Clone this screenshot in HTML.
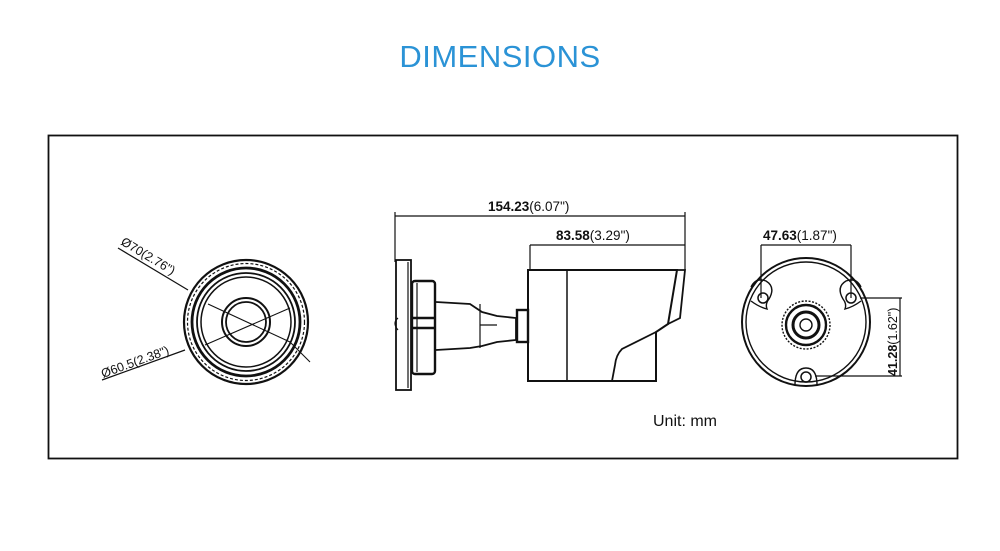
<!DOCTYPE html>
<html><head><meta charset="utf-8"><style>
html,body{margin:0;padding:0;background:#fff;}
body{width:1000px;height:551px;overflow:hidden;position:relative;font-family:"Liberation Sans",sans-serif;}
.t{position:absolute;left:0;width:1000px;top:39px;text-align:center;font-size:31px;color:#2b93d6;letter-spacing:0.5px;}
svg{position:absolute;left:0;top:0;}
</style></head><body>
<div class="t">DIMENSIONS</div>
<svg width="1000" height="551" viewBox="0 0 1000 551" fill="none" stroke="#111" stroke-width="1.8" font-family="Liberation Sans, sans-serif">
<rect x="48.5" y="135.5" width="909" height="323" stroke-width="1.8"/>
<!-- left front view -->
<g>
<circle cx="246" cy="322" r="62" stroke-width="2.2"/>
<circle cx="246" cy="322" r="58.5" stroke-width="1.2" stroke-dasharray="3 2"/>
<circle cx="246" cy="322" r="54" stroke-width="2.8"/>
<circle cx="246" cy="322" r="49" stroke-width="1.8"/>
<circle cx="246" cy="322" r="45" stroke-width="1.5"/>
<circle cx="246" cy="322" r="24" stroke-width="2"/>
<circle cx="246" cy="322" r="20" stroke-width="1.8"/>
<line x1="208" y1="304" x2="290" y2="342" stroke-width="1.1"/>
<line x1="205" y1="345" x2="290" y2="308" stroke-width="1.1"/>
<line x1="118" y1="248" x2="188" y2="290" stroke-width="1.2"/>
<line x1="102" y1="380" x2="185" y2="350" stroke-width="1.2"/>
<line x1="290" y1="342" x2="310" y2="362" stroke-width="1.1"/>
<text x="0" y="0" transform="translate(120,244) rotate(31)" font-size="12.5" fill="#111" stroke="none">Ø70(2.76")</text>
<text x="0" y="0" transform="translate(103,378) rotate(-20)" font-size="12.5" fill="#111" stroke="none">Ø60.5(2.38")</text>
</g>
<!-- side view -->
<g>
<line x1="395" y1="216" x2="685" y2="216" stroke-width="1.2"/>
<line x1="395" y1="212" x2="395" y2="262" stroke-width="1.2"/>
<line x1="685" y1="212" x2="685" y2="270" stroke-width="1.2"/>
<line x1="530" y1="245" x2="685" y2="245" stroke-width="1.2"/>
<line x1="530" y1="245" x2="530" y2="270" stroke-width="1.2"/>
<text x="488" y="211" font-size="13.5" fill="#111" stroke="none"><tspan font-weight="bold">154.23</tspan>(6.07")</text>
<text x="556" y="240" font-size="13.5" fill="#111" stroke="none"><tspan font-weight="bold">83.58</tspan>(3.29")</text>
<rect x="396" y="260" width="15" height="130" stroke-width="1.8"/>
<line x1="408" y1="262" x2="408" y2="388" stroke-width="1.2"/>
<rect x="412" y="281" width="23" height="93" rx="3" stroke-width="2.4"/>
<line x1="417" y1="283" x2="417" y2="372" stroke-width="1.2"/>
<line x1="412" y1="318" x2="435" y2="318" stroke-width="2.4"/>
<line x1="412" y1="328" x2="435" y2="328" stroke-width="2.4"/>
<path d="M398 318 q-6 5 0 12" stroke-width="1.2"/>
<path d="M436 302 L470 304 L482 312 L497 316 L516 318 L516 340 L497 342 L482 346 L470 348 L436 350" stroke-width="1.8"/>
<line x1="480" y1="304" x2="480" y2="348" stroke-width="1.2"/>
<line x1="480" y1="325" x2="497" y2="325" stroke-width="1.2"/>
<rect x="517" y="310" width="11" height="32" stroke-width="2.4"/>
<path d="M528 270 L677 270 L668 324 L656 332 L656 381 L528 381 Z" stroke-width="2"/>
<line x1="567" y1="270" x2="567" y2="381" stroke-width="1.5"/>
<path d="M677 270 L685 270 L680 318 L668 324" stroke-width="1.8"/>
<path d="M656 332 L622 349 Q616 355 615 365 L612 381" stroke-width="1.8"/>
<text x="653" y="426" font-size="16" fill="#111" stroke="none">Unit: mm</text>
</g>
<!-- right rear view -->
<g>
<circle cx="806" cy="322" r="64" stroke-width="2"/>
<circle cx="806" cy="322" r="60" stroke-width="1.4"/>
<circle cx="806" cy="325" r="24" stroke-width="1.4" stroke-dasharray="2 1.5"/>
<circle cx="806" cy="325" r="20" stroke-width="2.4"/>
<circle cx="806" cy="325" r="13" stroke-width="3"/>
<circle cx="806" cy="325" r="6" stroke-width="1.4"/>
<circle cx="763" cy="298" r="5" stroke-width="1.5"/>
<circle cx="851" cy="298" r="5" stroke-width="1.5"/>
<circle cx="806" cy="377" r="5" stroke-width="1.5"/>
<path d="M751 287 q5 -10 15 -6 q10 6 3 18 q-4 5 -2 10 q-8 -2 -16 -8" stroke-width="1.4"/>
<path d="M861 287 q-5 -10 -15 -6 q-10 6 -3 18 q4 5 2 10 q8 -2 16 -8" stroke-width="1.4"/>
<path d="M795 385 q0 -17 11 -17 q11 0 11 17" stroke-width="1.4"/>
<line x1="761" y1="245" x2="851" y2="245" stroke-width="1.2"/>
<line x1="761" y1="245" x2="761" y2="298" stroke-width="1.2"/>
<line x1="851" y1="245" x2="851" y2="298" stroke-width="1.2"/>
<text x="763" y="240" font-size="13.5" fill="#111" stroke="none"><tspan font-weight="bold">47.63</tspan>(1.87")</text>
<line x1="860" y1="298" x2="902" y2="298" stroke-width="1.2"/>
<line x1="815" y1="376" x2="902" y2="376" stroke-width="1.2"/>
<line x1="900" y1="298" x2="900" y2="376" stroke-width="1.2"/>
<text x="0" y="0" transform="translate(897,376) rotate(-90)" font-size="12.5" fill="#111" stroke="none"><tspan font-weight="bold">41.28</tspan>(1.62")</text>
</g>
</svg>
</body></html>
